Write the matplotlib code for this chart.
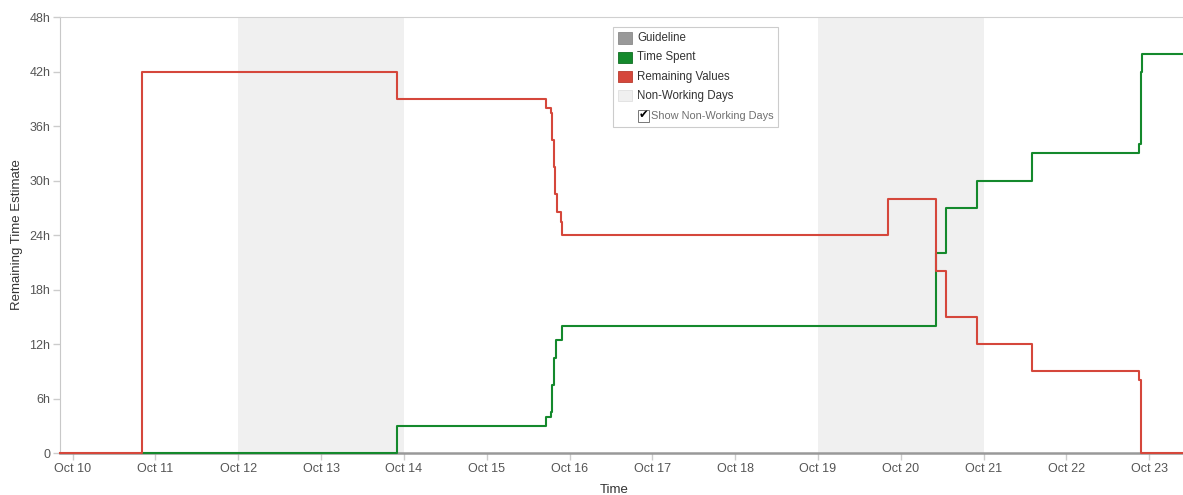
import matplotlib
matplotlib.use("Agg")
import matplotlib.pyplot as plt
from matplotlib.patches import Rectangle
from matplotlib.ticker import FuncFormatter

plt.rcParams['font.family'] = ['Liberation Sans', 'DejaVu Sans']

# time axis in days of October
x_start = 9.847
x_end = 23.408
tick_days = list(range(10, 24))
non_working = [(12, 14), (19, 21)]

# remaining values (hours), step changes
rem_x = [9.847, 10.837, 13.917, 15.716, 15.773, 15.789, 15.809, 15.829, 15.845,
         15.894, 15.909, 19.85, 20.423, 20.547, 20.918, 21.586, 22.882, 22.906, 23.408]
rem_y = [0, 42, 39, 38, 37.5, 34.5, 31.5, 28.5, 26.5,
         25.5, 24, 28, 20, 15, 12, 9, 8, 0, 0]

# time spent (hours), step changes
spent_x = [10.837, 13.917, 15.716, 15.773, 15.789, 15.809, 15.84, 15.909,
           20.423, 20.547, 20.918, 21.586, 22.882, 22.897, 22.910, 23.408]
spent_y = [0, 3, 4, 4.5, 7.5, 10.5, 12.5, 14,
           22, 27, 30, 33, 34, 42, 44, 44]

y_ticks = [0, 6, 12, 18, 24, 30, 36, 42, 48]

RED = '#d5473b'
GREEN = '#14892c'
GREY = '#999999'
NWD = '#f0f0f0'

W, H = 1183, 495
fig = plt.figure(figsize=(W / 100, H / 100), dpi=100)
ax = fig.add_axes([60 / W, 1 - 453 / H, 1 - 60 / W, (453 - 17.3) / H])

for a, b in non_working:
    ax.axvspan(a, b, color=NWD, zorder=0, lw=0)

ax.step(spent_x, spent_y, where='post', color=GREEN, lw=1.5, zorder=3, clip_on=False)
ax.step(rem_x, rem_y, where='post', color=RED, lw=1.5, zorder=4, clip_on=False)

ax.set_xlim(x_start, x_end)
ax.set_ylim(0, 48)
ax.set_xticks(tick_days)
ax.xaxis.set_major_formatter(FuncFormatter(lambda v, p: 'Oct %d' % round(v)))
ax.set_yticks(y_ticks)
ax.yaxis.set_major_formatter(FuncFormatter(lambda v, p: '0' if v == 0 else '%dh' % v))
ax.tick_params(axis='both', labelsize=9, labelcolor='#555555', color='#cccccc',
               length=5, width=1)
ax.tick_params(axis='x', pad=2)
ax.tick_params(axis='y', pad=2)

ax.spines['right'].set_visible(False)
ax.spines['left'].set_color('#c8c8c8')
ax.spines['top'].set_color('#d0d0d0')
ax.spines['bottom'].set_color(GREY)
ax.spines['bottom'].set_linewidth(1.8)

fig.text(17 / W, 1 - 235 / H, 'Remaining Time Estimate', rotation=90, ha='center',
         va='center', fontsize=9.5, color='#333333')
fig.text(614 / W, 1 - 490 / H, 'Time', ha='center', va='center', fontsize=9.5, color='#333333')

# legend box drawn in pixel coordinates
def px(x, y):
    return x / W, 1 - y / H

bx0, by0, bx1, by1 = 613, 27, 778, 127
fig.patches.append(Rectangle(px(bx0, by1), (bx1 - bx0) / W, (by1 - by0) / H,
                             transform=fig.transFigure, facecolor='white',
                             edgecolor='#cccccc', lw=0.8, zorder=10))
items = [('Guideline', GREY, '#8a8a8a'), ('Time Spent', GREEN, '#0f6e22'),
         ('Remaining Values', RED, '#b83a2e'), ('Non-Working Days', NWD, '#e0e0e0')]
for i, (label, fc, ec) in enumerate(items):
    yc = 38 + i * 19.3
    fig.patches.append(Rectangle(px(618, yc + 5.5), 14 / W, 11 / H,
                                 transform=fig.transFigure, facecolor=fc,
                                 edgecolor=ec, lw=0.6, zorder=11))
    fig.text(*px(637, yc), label, ha='left', va='center', fontsize=8.3,
             color='#333333', zorder=12)

yc = 116
fig.patches.append(Rectangle(px(638, yc + 5.5), 11 / W, 11 / H,
                             transform=fig.transFigure, facecolor='white',
                             edgecolor='#777777', lw=0.7, zorder=11))
fig.text(*px(643.5, yc - 1), '\u2714', ha='center', va='center', fontsize=8.5,
         color='black', family=['DejaVu Sans'], zorder=12)
fig.text(*px(651, yc), 'Show Non-Working Days', ha='left', va='center', fontsize=7.9,
         color='#707070', zorder=12)

fig.savefig('out.png', dpi=100)
